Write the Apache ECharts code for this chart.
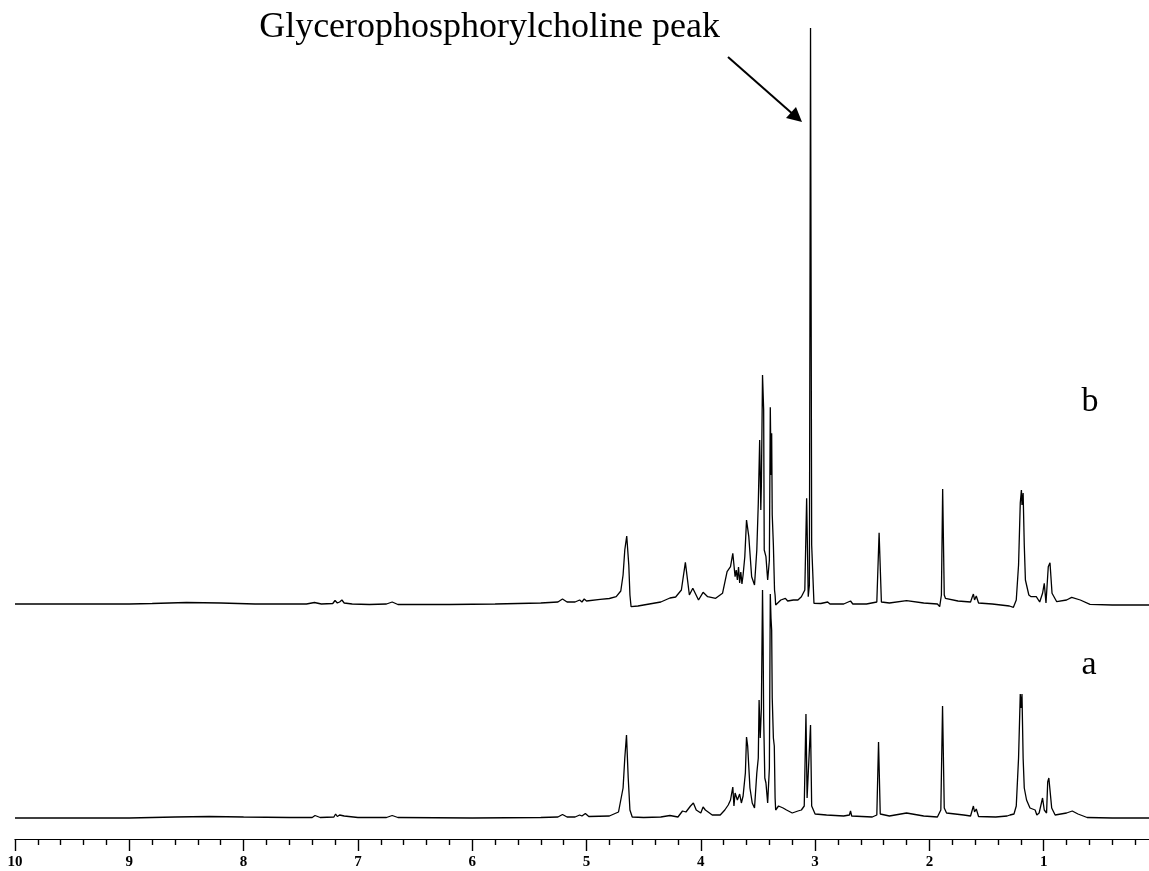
<!DOCTYPE html>
<html>
<head>
<meta charset="utf-8">
<script src="https://cdn.jsdelivr.net/npm/echarts@6/dist/echarts.min.js"></script>
<style>
  html, body { margin: 0; padding: 0; background: #fff; }
  #chart { width: 1149px; height: 871px; }
</style>
</head>
<body>
<div id="chart"></div>
<script>
// 1H NMR spectra: chemical shift (ppm) vs. relative intensity.
// Spectrum a: reference sample
const spectrumA = [
  [10.0, 0], [9.5, 0], [9.0, 0], [8.6, 1], [8.3, 1.5], [8.0, 1], [7.6, 0.5],
  [7.40, 0.5], [7.375, 2.5], [7.33, 0.5], [7.21, 1], [7.195, 4], [7.18, 1.5],
  [7.16, 3], [7.145, 5], [7.12, 2], [7.0, 0.5], [6.75, 0.5], [6.70, 2.5],
  [6.65, 0.5], [6.0, 0], [5.4, 0.5], [5.25, 1], [5.21, 3.5], [5.17, 1],
  [5.10, 1], [5.06, 3], [5.04, 2], [5.01, 4.5], [4.98, 1.5], [4.80, 2],
  [4.72, 6], [4.68, 30], [4.665, 60], [4.65, 83], [4.635, 40], [4.62, 8],
  [4.60, 1], [4.50, 0.5], [4.35, 1], [4.27, 2.5], [4.20, 1], [4.16, 7],
  [4.13, 6], [4.09, 12], [4.065, 15], [4.04, 8], [4.00, 5], [3.98, 11],
  [3.96, 8], [3.95, 8], [3.90, 3], [3.83, 3], [3.79, 8], [3.76, 13],
  [3.74, 18], [3.72, 31], [3.71, 12], [3.70, 25], [3.68, 18], [3.66, 24],
  [3.645, 15], [3.63, 22], [3.61, 45], [3.60, 81], [3.59, 72], [3.57, 30],
  [3.55, 15], [3.53, 10], [3.51, 45], [3.497, 60], [3.49, 118], [3.48, 80],
  [3.47, 110], [3.46, 228], [3.455, 180], [3.45, 100], [3.44, 40], [3.43, 35],
  [3.415, 15], [3.40, 50], [3.392, 224], [3.386, 200], [3.38, 188],
  [3.375, 120], [3.37, 118], [3.365, 80], [3.357, 72], [3.35, 20], [3.345, 8],
  [3.32, 12], [3.28, 10], [3.25, 8], [3.20, 5], [3.15, 7], [3.12, 8],
  [3.095, 12], [3.08, 104], [3.07, 20], [3.055, 18], [3.04, 93], [3.03, 12],
  [3.00, 4], [2.90, 3], [2.75, 2], [2.70, 3], [2.69, 7], [2.68, 2], [2.50, 1],
  [2.46, 3], [2.445, 76], [2.43, 4], [2.35, 2], [2.20, 5], [2.05, 2],
  [1.93, 1], [1.90, 8], [1.885, 112], [1.87, 10], [1.85, 5], [1.70, 3],
  [1.64, 2], [1.625, 8], [1.615, 12], [1.605, 6], [1.59, 9], [1.57, 1.5],
  [1.42, 1], [1.32, 2], [1.295, 3], [1.26, 4], [1.24, 12], [1.22, 60],
  [1.205, 124], [1.198, 110], [1.19, 124], [1.18, 60], [1.17, 30], [1.15, 18],
  [1.12, 10], [1.075, 8], [1.06, 3], [1.04, 5], [1.01, 20], [0.995, 8],
  [0.975, 5], [0.965, 36], [0.955, 40], [0.945, 38], [0.93, 10], [0.90, 3],
  [0.80, 5], [0.75, 7], [0.70, 4], [0.62, 0.5], [0.40, 0], [0.0, 0]
];

// Spectrum b: sample with the glycerophosphorylcholine signal at 3.04 ppm
const spectrumB = [
  [10.0, 1], [9.5, 1], [9.0, 1], [8.8, 1.5], [8.5, 2.5], [8.2, 2], [7.9, 1],
  [7.45, 1], [7.38, 2.5], [7.32, 1], [7.22, 1.5], [7.20, 4.5], [7.18, 2],
  [7.16, 3], [7.14, 5], [7.12, 2], [7.05, 1], [6.90, 0.5], [6.75, 1],
  [6.70, 3], [6.65, 0.5], [6.20, 0.5], [5.80, 1], [5.40, 2], [5.25, 3],
  [5.21, 6], [5.17, 3], [5.10, 3], [5.06, 5], [5.04, 3], [5.02, 6], [5.00, 4],
  [4.88, 5.7], [4.80, 6.5], [4.74, 8.3], [4.70, 14], [4.68, 30], [4.665, 55],
  [4.648, 69], [4.63, 40], [4.62, 10], [4.61, -1.7], [4.55, -1], [4.45, 1],
  [4.35, 3], [4.27, 7], [4.22, 8], [4.17, 15], [4.135, 42.7], [4.10, 10],
  [4.07, 16.7], [4.02, 5], [3.98, 12.7], [3.94, 8.3], [3.87, 6.7],
  [3.81, 11.7], [3.77, 33.3], [3.74, 38.3], [3.72, 51.7], [3.70, 28.3],
  [3.69, 35], [3.68, 25], [3.67, 38], [3.66, 22], [3.65, 33], [3.64, 21],
  [3.63, 30], [3.615, 48.3], [3.60, 85], [3.58, 68.3], [3.555, 28.3],
  [3.53, 20], [3.51, 55], [3.497, 101.7], [3.485, 165], [3.475, 95],
  [3.47, 120], [3.46, 230], [3.45, 195], [3.445, 55], [3.43, 48.3],
  [3.415, 25], [3.40, 45], [3.392, 197.7], [3.385, 130], [3.38, 171.7],
  [3.375, 90], [3.37, 90], [3.365, 60], [3.36, 60], [3.355, 15], [3.35, 10],
  [3.345, 0], [3.30, 5], [3.26, 6.7], [3.24, 4], [3.19, 5], [3.15, 5],
  [3.12, 8.3], [3.09, 15], [3.074, 106.7], [3.06, 8.3], [3.05, 20],
  [3.04, 577], [3.03, 60], [3.01, 1.7], [2.95, 1.5], [2.89, 3], [2.87, 1],
  [2.75, 1], [2.69, 4], [2.67, 1], [2.55, 1], [2.46, 3], [2.44, 72.3],
  [2.42, 3], [2.35, 2], [2.20, 4.3], [2.05, 2], [1.93, 1], [1.91, -1.7],
  [1.895, 10], [1.884, 116], [1.87, 10], [1.86, 6.7], [1.75, 4], [1.64, 3],
  [1.625, 8], [1.615, 11], [1.605, 5], [1.59, 9], [1.57, 2], [1.45, 1],
  [1.30, -1], [1.265, -2.3], [1.24, 5], [1.22, 40], [1.205, 102],
  [1.195, 115], [1.19, 100], [1.18, 112], [1.17, 60], [1.16, 25], [1.13, 10],
  [1.11, 8.3], [1.065, 8.3], [1.035, 3], [1.01, 11.7], [0.995, 21.7],
  [0.98, 2], [0.96, 38.3], [0.945, 42.3], [0.927, 11.7], [0.886, 3.3],
  [0.80, 5], [0.755, 7.7], [0.68, 5], [0.595, 0.7], [0.40, 0], [0.0, 0]
];

// Shift axis: 10 → 0 ppm, labelled every 1 ppm (the 0 end runs off the page)
const shiftTicks = [10, 9, 8, 7, 6, 5, 4, 3, 2, 1];

const annotationText = 'Glycerophosphorylcholine peak';
const spectrumLabels = ['a', 'b'];

const chart = echarts.init(document.getElementById('chart'), null, { renderer: 'canvas' });

const serif = '"Liberation Serif", "Times New Roman", serif';
// 10 ppm sits at x = 15; the 0 ppm end lies just past the right edge
const gridLeft = 15, gridWidth = 1143;

chart.setOption({
  animation: false,
  backgroundColor: '#ffffff',
  grid: [
    // lower spectrum (a) with the shift axis
    { left: gridLeft, width: gridWidth, top: 239, height: 600, outerBoundsMode: 'none' },
    // upper spectrum (b), stacked above
    { left: gridLeft, width: gridWidth, top: 5, height: 600, outerBoundsMode: 'none' }
  ],
  xAxis: [
    {
      gridIndex: 0, type: 'value', min: 0, max: 10, interval: 1, inverse: true,
      axisLine: { show: true, onZero: false, lineStyle: { color: '#000', width: 1.2 } },
      axisTick: { show: true, length: 12, lineStyle: { color: '#000', width: 1.4 } },
      minorTick: { show: true, splitNumber: 5, length: 6, lineStyle: { color: '#000', width: 1.4 } },
      splitLine: { show: false },
      axisLabel: {
        margin: 16, color: '#000', fontFamily: serif, fontSize: 15, fontWeight: 'bold',
        formatter: v => (shiftTicks.indexOf(v) >= 0 ? String(v) : '')
      }
    },
    {
      gridIndex: 1, type: 'value', min: 0, max: 10, inverse: true, show: false
    }
  ],
  yAxis: [
    { gridIndex: 0, type: 'value', min: -21, max: 579, show: false },
    { gridIndex: 1, type: 'value', min: 0, max: 600, show: false }
  ],
  series: [
    {
      name: 'a', type: 'line', xAxisIndex: 0, yAxisIndex: 0, data: spectrumA,
      showSymbol: false, symbol: 'none', clip: false,
      lineStyle: { color: '#000', width: 1.3 }
    },
    {
      name: 'b', type: 'line', xAxisIndex: 1, yAxisIndex: 1, data: spectrumB,
      showSymbol: false, symbol: 'none', clip: false,
      lineStyle: { color: '#000', width: 1.3 }
    }
  ],
  graphic: [
    {
      type: 'text', x: 720, y: 46,
      style: {
        text: annotationText, font: '36px ' + serif, fill: '#000',
        textAlign: 'right', textVerticalAlign: 'bottom'
      }
    },
    {
      type: 'line', shape: { x1: 728, y1: 57, x2: 795, y2: 116 },
      style: { stroke: '#000', lineWidth: 2 }
    },
    {
      type: 'polygon', shape: { points: [[802, 122], [786, 118], [796, 107]] },
      style: { fill: '#000' }
    },
    {
      type: 'text', x: 1090, y: 402,
      style: { text: spectrumLabels[1], font: '34px ' + serif, fill: '#000',
        textAlign: 'center', textVerticalAlign: 'middle' }
    },
    {
      type: 'text', x: 1089, y: 665,
      style: { text: spectrumLabels[0], font: '34px ' + serif, fill: '#000',
        textAlign: 'center', textVerticalAlign: 'middle' }
    }
  ]
});
</script>
</body>
</html>
